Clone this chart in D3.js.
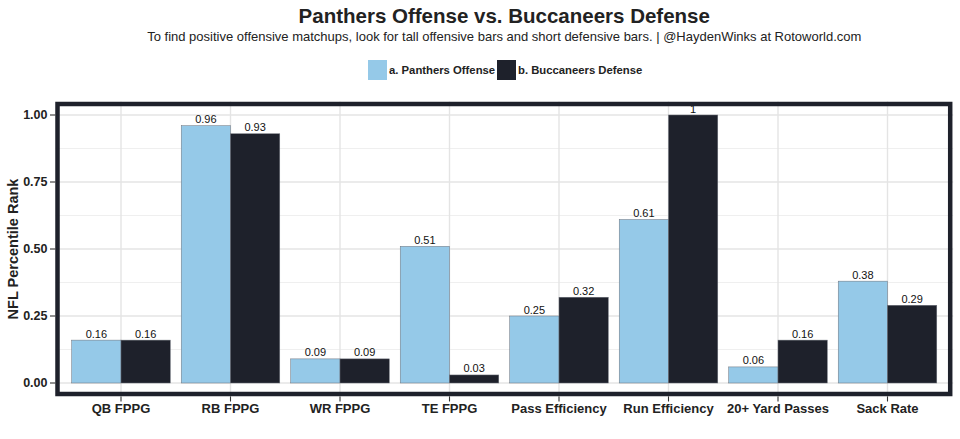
<!DOCTYPE html>
<html><head><meta charset="utf-8">
<script src="https://cdn.jsdelivr.net/npm/d3@7"></script>
<style>body{margin:0;background:#fff;} text{font-family:"Liberation Sans",Arial,Helvetica,sans-serif;}</style>
</head><body>
<svg id="c" width="960" height="439"></svg>
<script>
const categories = ["QB FPPG","RB FPPG","WR FPPG","TE FPPG","Pass Efficiency","Run Efficiency","20+ Yard Passes","Sack Rate"];
const seriesNames = ["a. Panthers Offense","b. Buccaneers Defense"];
const offense = [0.16,0.96,0.09,0.51,0.25,0.61,0.06,0.38];
const defense = [0.16,0.93,0.09,0.03,0.32,1,0.16,0.29];
const yTicks = [0,0.25,0.5,0.75,1];
const yMinor = [0.125,0.375,0.625,0.875];
const colors = ["#95C9E8","#1E212B"];

const svg = d3.select("#c");
const panel = {left:55.3, right:953.2, top:101.6, bottom:396.4};
// emulate ggplot: 0.6 unit expansion each side, bar width 0.9
const step = (panel.right - panel.left)/ (categories.length + 0.2);
const xc = d3.scalePoint().domain(categories).range([panel.left + 0.6*step, panel.right - 0.6*step]);
const y = d3.scaleLinear().domain([-0.05,1.05]).range([panel.bottom, panel.top]);
const xs = d3.scaleBand().domain(seriesNames).range([-0.45*step, 0.45*step]);

// grid
const g = svg.append("g");
g.selectAll(".minor").data(yMinor).join("line").attr("x1",panel.left).attr("x2",panel.right)
  .attr("y1",d=>y(d)).attr("y2",d=>y(d)).attr("stroke","#EBEBEB").attr("stroke-width",0.8);
g.selectAll(".major").data(yTicks).join("line").attr("x1",panel.left).attr("x2",panel.right)
  .attr("y1",d=>y(d)).attr("y2",d=>y(d)).attr("stroke","#E4E4E4").attr("stroke-width",1.4);
g.selectAll(".vmaj").data(categories).join("line").attr("y1",panel.top).attr("y2",panel.bottom)
  .attr("x1",d=>xc(d)).attr("x2",d=>xc(d)).attr("stroke","#E4E4E4").attr("stroke-width",1.4);

// bars
const data = categories.map((c,i)=>({c, vals:[{s:seriesNames[0],v:offense[i]},{s:seriesNames[1],v:defense[i]}]}));
const grp = svg.append("g").selectAll("g").data(data).join("g").attr("transform",d=>`translate(${xc(d.c)},0)`);
grp.selectAll("rect").data(d=>d.vals).join("rect")
  .attr("x",d=>xs(d.s)).attr("width",xs.bandwidth())
  .attr("y",d=>y(d.v)).attr("height",d=>y(0)-y(d.v))
  .attr("fill",(d,i)=>colors[i]).attr("stroke","#6b6f78").attr("stroke-width",0.5);
grp.selectAll("text").data(d=>d.vals).join("text")
  .attr("x",d=>xs(d.s)+xs.bandwidth()/2).attr("y",d=>y(d.v)-2.5)
  .attr("text-anchor","middle").attr("font-size",11).attr("fill","#111")
  .text(d=>String(+d.v.toFixed(2)));

// border
svg.append("rect").attr("x",57.5).attr("y",104).attr("width",950.2-57.5).attr("height",394-104)
  .attr("fill","none").attr("stroke","#1E212B").attr("stroke-width",4.5);

// y axis
const ya = svg.append("g");
ya.selectAll("line").data(yTicks).join("line").attr("x1",50).attr("x2",55.3)
  .attr("y1",d=>y(d)).attr("y2",d=>y(d)).attr("stroke","#333").attr("stroke-width",1.1);
ya.selectAll("text").data(yTicks).join("text").attr("x",47.5).attr("y",d=>y(d)).attr("dy","0.35em")
  .attr("text-anchor","end").attr("font-size",12.5).attr("font-weight","bold").attr("fill","#222")
  .text(d=>d3.format(".2f")(d));
svg.append("text").attr("transform",`translate(18,${(panel.top+panel.bottom)/2}) rotate(-90)`)
  .attr("text-anchor","middle").attr("font-size",14.5).attr("font-weight","bold").attr("fill","#222")
  .text("NFL Percentile Rank");

// x axis
const xa = svg.append("g");
xa.selectAll("line").data(categories).join("line").attr("y1",396.4).attr("y2",401.5)
  .attr("x1",d=>xc(d)).attr("x2",d=>xc(d)).attr("stroke","#333").attr("stroke-width",1.1);
xa.selectAll("text").data(categories).join("text").attr("x",d=>xc(d)).attr("y",413)
  .attr("text-anchor","middle").attr("font-size",13).attr("font-weight","bold").attr("fill","#222")
  .text(d=>d);

// titles
const cx = (panel.left+panel.right)/2;
svg.append("text").attr("x",cx).attr("y",23).attr("text-anchor","middle").attr("font-size",20.5)
  .attr("font-weight","bold").attr("fill","#222").text("Panthers Offense vs. Buccaneers Defense");
svg.append("text").attr("x",cx).attr("y",41).attr("text-anchor","middle").attr("font-size",13)
  .attr("fill","#222").text("To find positive offensive matchups, look for tall offensive bars and short defensive bars. | @HaydenWinks at Rotoworld.com");

// legend
const leg = svg.append("g");
const legItems = [{n:seriesNames[0],x:368},{n:seriesNames[1],x:497}];
legItems.forEach((it,i)=>{
  leg.append("rect").attr("x",it.x).attr("y",60).attr("width",19).attr("height",20).attr("fill",colors[i]);
  leg.append("text").attr("x",it.x+21).attr("y",70).attr("dy","0.35em").attr("font-size",11.3)
    .attr("font-weight","bold").attr("fill","#222").text(it.n);
});
</script>
</body></html>
